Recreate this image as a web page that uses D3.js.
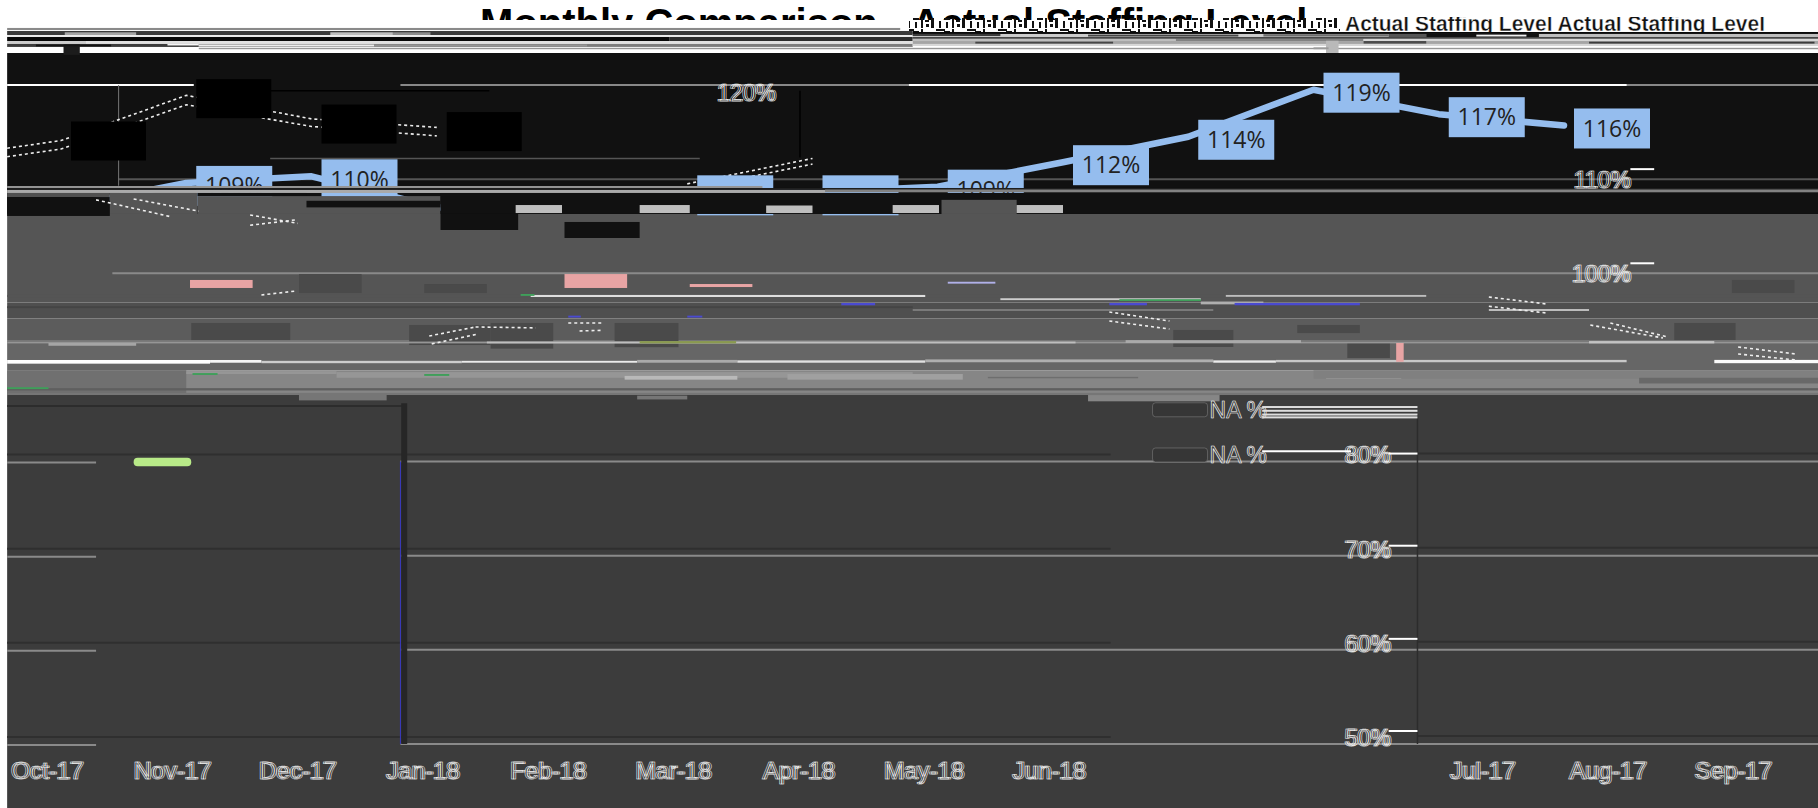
<!DOCTYPE html>
<html>
<head>
<meta charset="utf-8">
<script src="https://cdn.jsdelivr.net/npm/d3@7"></script>
<style>
html, body { margin: 0; padding: 0; background: #fff; overflow: hidden; }
svg { display: block; }
</style>
</head>
<body>
<div id="chart"></div>
<script>
// chart values, slots are month positions, values are percent
const titleText = "Monthly Comparison - Actual Staffing Level";
const rowText = "Actual Staffing Level Actual Staffing Level";
const monthLabels = ["Oct-17","Nov-17","Dec-17","Jan-18","Feb-18","Mar-18","Apr-18","May-18","Jun-18","Jul-17","Aug-17","Sep-17"];
const monthSlots = [-0.12,0.88,1.88,2.88,3.88,4.88,5.88,6.88,7.88,11.34,12.34,13.34];

const actualSlots = [0,1,2,3,4,5,6,7,8,9,10,11,12];
const actualValues = [107,109.6,110.3,107,107,108.6,108.6,109.2,111.8,114.5,119.5,116.9,115.7];
const actualLabels = ["","109%","110%","","","","","109%","112%","114%","119%","117%","116%"];

const budgetSlots = [-1,0,1,2,3];
const budgetUpper = [112.2,114.1,118.9,116.4,115.5];
const budgetLower = [111.3,113.2,117.9,115.6,114.6];
const budgetValues = [114,118.5,115.8,115];
const laterSlots = [5,6];
const laterUpper = [109.5,112.2];
const laterLower = [108.9,111.6];

// broken dashed fragments, one row is slot, slot, value, value
const fragments = [
  [0.28,0.88,107.8,106.0],[0.58,1.1,107.9,106.6],[1.51,1.89,106.2,105.3],[1.51,1.89,105.1,105.7],
  [1.6,1.88,97.7,98.12],[2.94,3.31,93.34,94.3],[3.31,3.79,94.3,94.2],[2.96,3.33,92.5,93.55],
  [4.05,4.33,94.72,94.72],[4.14,4.33,93.87,93.95],[8.37,8.85,95.89,94.93],[8.37,8.85,94.93,94.08],
  [11.4,11.86,97.48,96.74],[11.4,11.86,96.5,95.78],[12.21,12.79,94.5,93.13],[12.37,12.83,94.72,93.23],
  [13.39,13.85,92.17,91.43],[13.39,13.85,91.43,90.79]
];

const gridValues = [120,110,100,80,70,60,50];
const lowTicks = [80,70,60,50];

// background bands, top value, bottom value, grey level
const bands = [
  [123.4,106.3,17],[106.3,96.9,85],[96.9,95.2,79],[95.2,92.9,92],[92.9,89.7,102],[89.7,87.07,134],[87.07,43,60]
];

// damaged rows of the picture, slot, slot, top value, bottom value, grey level
const stripes = [
  [-0.43,6.7,126.06,125.84,138],[-0.43,6.8,125.74,125.31,58],[0.03,0.6,125.6,125.31,165],[2.15,2.65,125.6,125.31,190],[2.65,2.95,125.6,125.31,140],
  [-0.43,6.8,125.31,125.1,235],[-0.43,4.86,125.1,124.67,8],[4.86,6.8,125.1,124.67,45],[-0.43,0.2,124.67,124.36,205],[0.2,6.8,124.67,124.36,225],
  [1.1,6.8,124.36,124.04,125],[-0.43,1.1,124.36,124.04,60],[0.85,1.1,124.36,124.2,245],[1.1,2.5,124.3,124.1,235],[2.5,4.2,124.3,124.1,150],
  [-0.43,14.03,124.04,123.4,255],[1.1,14.03,123.95,123.8,150],
  [0.02,0.15,124.3,123.2,28],[-0.2,0.4,124.3,124.1,20],
  [6.8,14.03,125.63,125.42,10],[6.8,12.8,125.42,125.1,205],[6.8,7.5,125.42,125.2,60],[8.2,9.4,125.35,125.15,70],[9.6,10.6,125.4,125.15,110],[10.6,10.9,125.42,125.1,85],
  [10.9,11.8,125.42,125.1,18],[11.3,11.7,125.35,125.15,240],[11.8,14.03,125.42,125.1,190],
  [6.8,14.03,125.1,124.9,70],[6.8,8.9,124.9,124.67,190],[8.9,10.4,124.9,124.67,130],[10.4,14.03,124.9,124.67,215],
  [6.8,14.03,124.67,124.36,165],[7.3,8.4,124.6,124.4,70],[10.4,10.9,124.67,124.4,75],[12.2,14,124.6,124.4,60],
  [6.8,14.03,124.36,124.14,215],[10.1,10.2,124.7,123.4,185],[10,10.12,124.0,123.8,155],

  [-0.43,5.6,109.27,109.06,150],[-0.43,14.03,109.06,108.85,30],[-0.43,6.1,108.85,108.53,170],[6.1,14.03,108.9,108.6,130],
  [-0.43,0.39,108.53,108.1,80],[-0.43,0.39,108.1,106.09,17],[0.39,1.09,108.53,106.3,85],[1.09,1.96,108.53,108.2,17],
  [1.09,3.03,108.2,106.3,85],[1.96,3.03,107.7,107,17],[3.03,14.03,108.53,106.3,17],
  [3.63,4,107.25,106.4,190],[4.62,5.02,107.25,106.4,190],[5.63,6,107.2,106.4,190],[6.64,7.01,107.25,106.4,190],
  [7.03,7.63,107.8,106.3,85],[7.63,8,107.25,106.4,190],[3.03,3.65,106.3,104.6,17],[4.02,4.62,105.45,103.75,17],

  [-0.43,14.03,97.7,97.48,85],[3.75,6.9,97.7,97.48,222],[9.3,10.9,97.7,97.5,190],[7.5,9.1,97.35,97.15,205],[9.1,9.6,97.0,96.7,175],
  [-0.43,6.8,96.5,96.3,68],[6.8,9.2,96.2,96,125],[11.4,12.2,96.2,96,195],
  [-0.43,14.03,92.75,92.55,150],[-0.1,0.6,92.6,92.3,165],[3.4,8.1,92.75,92.55,190],[8.5,9.9,92.9,92.6,170],[12.2,13.2,92.8,92.55,195],

  [-0.43,1.19,90.79,90.4,255],[1.19,1.6,90.79,90.5,245],[1.6,3.2,90.7,90.45,205],[3.2,4.6,90.7,90.5,235],[4.6,5.4,90.8,90.5,170],
  [5.4,6.9,90.75,90.5,225],[6.9,9.2,90.85,90.55,175],[9.2,9.7,90.75,90.5,235],[9.7,12.5,90.8,90.55,200],[13.2,14.03,90.8,90.45,250],
  [-0.43,1,89.7,87.07,112],[1,2.2,89.6,89.3,150],[2.2,6.8,89.5,88.9,150],[4.5,5.4,89.1,88.7,185],[5.8,7.2,89.3,88.7,160],
  [10.1,10.7,89.4,88.8,185],[10.1,10.7,89.0,88.85,235],[10,14.03,89.7,88.8,128],[12.6,14.03,88.9,88.3,105],[7.4,8.6,89,88.85,110],
  [-0.43,14.03,87.8,87.55,95],[-0.43,14.03,87.3,87.07,118],[1.9,2.6,87.2,86.5,118],[4.6,5,87,86.6,118],[8.2,9.25,87.07,86.4,134]
];

// dark label patches left behind in the grey band, slot, slot, top value, bottom value
const darkPatches = [
  [1.9,2.4,99.92,97.9],[2.9,3.4,98.86,97.9],[1.04,1.83,94.72,92.91],[2.78,3.43,94.51,92.38],[3.43,3.93,94.72,92],
  [4.42,4.93,94.72,92.15],[8.88,9.36,93.98,92.17],[9.87,10.37,94.51,93.65],[12.88,13.37,94.72,92.91],[13.34,13.84,99.29,97.9],[10.27,10.61,92.7,91]
];

// the pink and coloured scraps, slot, slot, top value, bottom value, colour index
const colourScraps = [
  [1.03,1.53,99.29,98.44,0],[4.02,4.52,99.92,98.44,0],[5.02,5.52,98.86,98.54,0],[10.66,10.72,92.6,90.6,0],
  [8.37,8.67,96.85,96.6,1],[9.37,10.37,96.85,96.6,1],[6.23,6.5,96.85,96.6,1],[4.05,4.15,95.5,95.3,1],[5,5.12,95.5,95.3,1],[7.08,7.46,99.1,98.9,2],
  [8.45,9.1,97.25,97.05,3],[3.67,3.78,97.8,97.6,3],[4.62,5.39,92.8,92.55,4],[-0.43,-0.1,87.9,87.7,3],[1.05,1.25,89.4,89.2,3],[2.9,3.1,89.3,89.1,3]
];
const scrapColours = ["#e8a4a4","#4a4ad0","#b0b0e8","#3f9f5a","#8a9a50"];

const missingLabels = ["NA %","NA %"];
const missingValues = [85.5,80.7];

const W = 1818, H = 808;
const x = d3.scaleLinear().domain([0,12]).range([61,1564]);
const y = d3.scaleLinear().domain([50,120]).range([744,85]);
const left = x(-0.43), right = W;
const grey = v => d3.rgb(v,v,v).formatHex();

const svg = d3.select("#chart").append("svg")
  .attr("width", W).attr("height", H);

const defs = svg.append("defs");
defs.append("clipPath").attr("id","titleClip")
  .append("rect").attr("x",0).attr("y",0).attr("width",W).attr("height",20);
defs.append("clipPath").attr("id","rowClip")
  .append("rect").attr("x",1340).attr("y",17).attr("width",430).attr("height",15);
defs.append("clipPath").attr("id","plotClip")
  .append("rect").attr("x",left).attr("y",53).attr("width",W-left).attr("height",H-53);

// hatch for the torn lower half of the title
const hatch = defs.append("pattern").attr("id","tornRow").attr("patternUnits","userSpaceOnUse")
  .attr("width",31).attr("height",14);
[[1,4,3,10],[6,1,9,2],[9,7,2,7],[14,3,6,3],[16,8,2,6],[22,1,2,13],[26,6,4,2],[27,10,3,3]].forEach(r => {
  hatch.append("rect").attr("x",r[0]).attr("y",r[1]).attr("width",r[2]).attr("height",r[3]).attr("fill","#111");
});

// title, only its upper half survives
svg.append("text")
  .attr("clip-path","url(#titleClip)")
  .attr("x",480).attr("y",37)
  .attr("font-family","Liberation Sans").attr("font-weight","bold").attr("font-size",40)
  .attr("fill","#000")
  .text(titleText);
svg.append("rect").attr("x",909).attr("y",18).attr("width",431).attr("height",14).attr("fill","url(#tornRow)");
svg.append("text")
  .attr("clip-path","url(#rowClip)")
  .attr("x",1345).attr("y",31)
  .attr("font-family","Liberation Sans").attr("font-weight","bold").attr("font-size",22)
  .attr("textLength",420).attr("lengthAdjust","spacingAndGlyphs")
  .attr("fill","#111").attr("stroke","#fff").attr("stroke-width",0.4)
  .text(rowText);

// bands
svg.append("g").selectAll("rect").data(bands).enter().append("rect")
  .attr("x",left).attr("width",right-left)
  .attr("y",d => y(d[0])).attr("height",d => y(d[1]) - y(d[0]))
  .attr("fill",d => grey(d[2]));

// gridlines
const gridGroup = svg.append("g");
gridValues.forEach(v => {
  const inBlack = v > 106;
  gridGroup.append("line")
    .attr("x1", v === 110 ? x(0.46) : (v === 100 ? x(0.41) : x(2.71))).attr("x2",right)
    .attr("y1",y(v)).attr("y2",y(v))
    .attr("stroke", v === 120 ? "#888" : (inBlack ? "#555" : "#8a8a8a"))
    .attr("stroke-width",2);
  if (v < 100) {
    gridGroup.append("line").attr("x1",left).attr("x2",x(0.28))
      .attr("y1",y(v) + 1).attr("y2",y(v) + 1).attr("stroke","#8a8a8a").attr("stroke-width",2);
    gridGroup.append("line").attr("x1",left).attr("x2",x(8.38))
      .attr("y1",y(v) - 7).attr("y2",y(v) - 7).attr("stroke","#2f2f2f").attr("stroke-width",2);
    gridGroup.append("line").attr("x1",x(10.83)).attr("x2",right)
      .attr("y1",y(v) - 8).attr("y2",y(v) - 8).attr("stroke","#2f2f2f").attr("stroke-width",2);
  }
});
gridGroup.append("line").attr("x1",left).attr("x2",x(1.06)).attr("y1",y(120)).attr("y2",y(120)).attr("stroke","#fff").attr("stroke-width",2);
gridGroup.append("line").attr("x1",x(6.77)).attr("x2",x(12.5)).attr("y1",y(120)).attr("y2",y(120)).attr("stroke","#fff").attr("stroke-width",2);
gridGroup.append("line").attr("x1",x(1.67)).attr("x2",x(3.42)).attr("y1",y(119.4)).attr("y2",y(119.4)).attr("stroke","#000").attr("stroke-width",1.5);
gridGroup.append("line").attr("x1",x(1.67)).attr("x2",x(5.1)).attr("y1",y(112.2)).attr("y2",y(112.2)).attr("stroke","#555").attr("stroke-width",1.5);
gridGroup.append("line").attr("x1",x(0.46)).attr("x2",x(0.46)).attr("y1",y(120)).attr("y2",y(109.3)).attr("stroke","#777").attr("stroke-width",1);
gridGroup.append("line").attr("x1",x(5.9)).attr("x2",x(5.9)).attr("y1",y(119.4)).attr("y2",y(112.3)).attr("stroke","#000").attr("stroke-width",1.5);
gridGroup.append("line").attr("x1",x(10.83)).attr("x2",x(10.83)).attr("y1",y(85)).attr("y2",y(50)).attr("stroke","#2c2c2c").attr("stroke-width",1.5);
gridGroup.append("line").attr("x1",left).attr("x2",x(2.76)).attr("y1",y(85.9)).attr("y2",y(85.9)).attr("stroke","#2c2c2c").attr("stroke-width",2);
gridGroup.append("line").attr("x1",x(2.74)).attr("x2",x(2.74)).attr("y1",y(86.2)).attr("y2",y(50)).attr("stroke","#262626").attr("stroke-width",6);
gridGroup.append("line").attr("x1",x(2.71)).attr("x2",x(2.71)).attr("y1",y(80)).attr("y2",y(50)).attr("stroke","#3a3ac0").attr("stroke-width",1);

// dashed budget lines
const plot = svg.append("g").attr("clip-path","url(#plotClip)");
const dashLine = d3.line().x(d => x(d[0])).y(d => y(d[1]));
function addDash(points) {
  plot.append("path")
    .attr("d",dashLine(points))
    .attr("fill","none").attr("stroke","#eee").attr("stroke-width",1.6).attr("stroke-dasharray","3 3");
}
addDash(d3.zip(budgetSlots,budgetUpper));
addDash(d3.zip(budgetSlots,budgetLower));
addDash(d3.zip(laterSlots,laterUpper));
addDash(d3.zip(laterSlots,laterLower));

// black label boxes of the budget line
plot.selectAll(".budgetBox").data(budgetValues).enter().append("rect")
  .attr("class","budgetBox")
  .attr("x",(d,i) => x(i) + 10).attr("width",75)
  .attr("y",d => y(d) - 20).attr("height",39)
  .attr("fill","#000");

// actual line
plot.append("path")
  .attr("d",d3.line().x(d => x(d[0])).y(d => y(d[1]))(d3.zip(actualSlots,actualValues)))
  .attr("fill","none").attr("stroke","#95bdee").attr("stroke-width",6.5)
  .attr("stroke-linecap","round").attr("stroke-linejoin","round");

const actualBoxes = plot.selectAll(".actualBox").data(actualSlots.filter(k => k > 0 && k !== 3 && k !== 4))
  .enter().append("g").attr("class","actualBox")
  .attr("transform",k => `translate(${x(k) + 48},${y(actualValues[k]) + 3})`);
actualBoxes.append("rect").attr("x",-38).attr("y",-20).attr("width",76).attr("height",40).attr("fill","#95bdee");
actualBoxes.append("text")
  .attr("text-anchor","middle").attr("dy","0.36em")
  .attr("font-family","Open Sans").attr("font-size",23).attr("fill","#222")
  .text(k => actualLabels[k]);

// damaged rows on top of the lines
const paintRows = (rows, fill) => svg.append("g").selectAll("rect").data(rows).enter().append("rect")
  .attr("x",d => x(d[0])).attr("width",d => x(d[1]) - x(d[0]))
  .attr("y",d => y(d[2])).attr("height",d => Math.max(1,y(d[3]) - y(d[2])))
  .attr("fill",fill);
paintRows(darkPatches, "#4a4a4a");
paintRows(stripes, d => grey(d[4]));
paintRows(colourScraps, d => scrapColours[d[4]]);

fragments.forEach(f => {
  svg.append("line")
    .attr("x1",x(f[0])).attr("x2",x(f[1])).attr("y1",y(f[2])).attr("y2",y(f[3]))
    .attr("stroke","#eee").attr("stroke-width",1.6).attr("stroke-dasharray","3 3");
});

// the green pill
svg.append("rect")
  .attr("x",x(0.58)).attr("width",x(1.04) - x(0.58))
  .attr("y",y(80.4)).attr("height",y(79.5) - y(80.4))
  .attr("rx",4).attr("fill","#b8ea88");

// white stubs beside the value labels
const stubs = [[110,12.53,12.72,10],[100,12.53,12.72,10],[80,10.6,10.83,8],[70,10.6,10.83,10],[60,10.6,10.83,11],[50,10.6,10.83,13]];
svg.append("g").selectAll("line").data(stubs).enter().append("line")
  .attr("x1",d => x(d[1])).attr("x2",d => x(d[2]))
  .attr("y1",d => y(d[0]) - d[3]).attr("y2",d => y(d[0]) - d[3])
  .attr("stroke","#fff").attr("stroke-width",2);

// axes, the labels are double exposed in the reference
function styleAxis(g, size) {
  g.select(".domain").remove();
  g.selectAll(".tick line").remove();
  g.selectAll("text")
    .attr("font-family","Liberation Sans").attr("font-size",size)
    .attr("fill","none").attr("stroke","#fff").attr("stroke-width",0.5);
}
[0,2].forEach(off => {
  const monthAxis = d3.axisBottom(x).tickValues(monthSlots).tickFormat((d,i) => monthLabels[i]).tickSize(0);
  svg.append("g").attr("transform",`translate(${off},759)`).call(monthAxis).call(styleAxis,24);

  const pct = d => d + "%";
  const topAxis = d3.axisLeft(y).tickValues([120]).tickFormat(pct).tickSize(0);
  svg.append("g").attr("transform",`translate(${778 + off},8)`).call(topAxis).call(styleAxis,23);
  const midAxis = d3.axisLeft(y).tickValues([110,100]).tickFormat(pct).tickSize(0);
  svg.append("g").attr("transform",`translate(${1633 + off},1)`).call(midAxis).call(styleAxis,23);
  const lowAxis = d3.axisLeft(y).tickValues(lowTicks).tickFormat(pct).tickSize(0);
  svg.append("g").attr("transform",`translate(${1393 + off},-6)`).call(lowAxis).call(styleAxis,23);
});

// the two NA labels with their pale boxes
const naRows = svg.append("g").selectAll("g").data(missingValues).enter().append("g")
  .attr("transform",d => `translate(${x(9.17)},${y(d)})`);
naRows.append("rect").attr("x",-57).attr("y",-7).attr("width",55).attr("height",14).attr("rx",3)
  .attr("fill","#363636").attr("stroke","#888").attr("stroke-width",0.5);
naRows.append("text").attr("x",0).attr("dy","0.36em")
  .attr("font-family","Liberation Sans").attr("font-size",23)
  .attr("fill","none").attr("stroke","#fff").attr("stroke-width",0.6)
  .text((d,i) => missingLabels[i]);
svg.append("g").selectAll("rect").data([85.9,85.5,85.1,84.8]).enter().append("rect")
  .attr("x",x(9.59)).attr("width",x(10.83) - x(9.59))
  .attr("y",d => y(d)).attr("height",2).attr("fill","#ddd");
svg.append("line").attr("x1",x(9.59)).attr("x2",x(10.3)).attr("y1",y(81.1)).attr("y2",y(81.1)).attr("stroke","#fff").attr("stroke-width",2);
</script>
</body>
</html>
